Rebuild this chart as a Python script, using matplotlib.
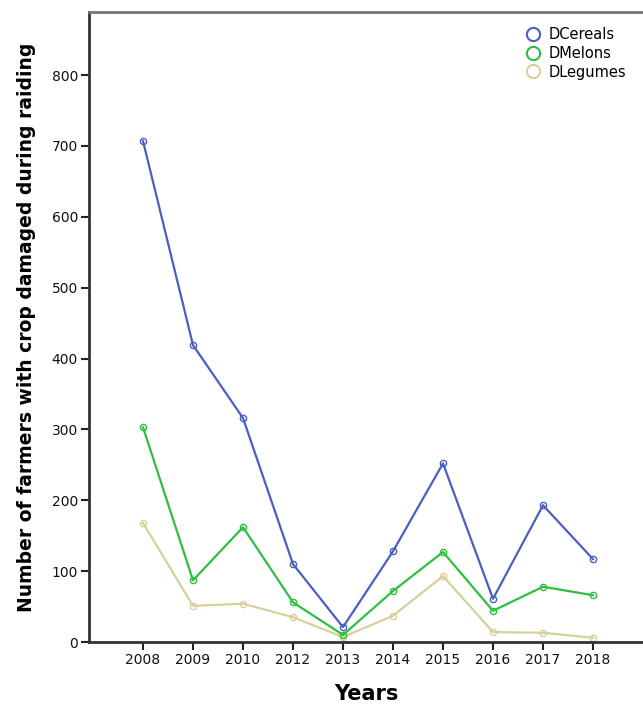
import matplotlib
matplotlib.use("Agg")
import matplotlib.pyplot as plt
from matplotlib.lines import Line2D

years = ["2008", "2009", "2010", "2012", "2013", "2014", "2015", "2016", "2017", "2018"]
cereals = [707, 419, 316, 110, 21, 128, 252, 61, 193, 117]
melons = [303, 87, 162, 56, 10, 72, 127, 44, 78, 66]
legumes = [168, 51, 54, 35, 7, 37, 93, 14, 13, 6]

series_names = ["DCereals", "DMelons", "DLegumes"]
colors = ["#4a5fc1", "#2fbf3f", "#d8d09c"]

fig = plt.figure(figsize=(6.43, 7.05), dpi=100)
ax = fig.add_axes([89 / 643, 63 / 705, 1 - 89 / 643, (642 - 12) / 705])

x = list(range(len(years)))
for vals, c in zip([legumes, melons, cereals], colors[::-1]):
    ax.plot(x, vals, color=c, lw=1.6, marker="o", ms=4.5, mfc="none", mec=c, mew=1.0)

ax.set_xlim(-1.08, 10.0)
ax.set_ylim(0, 889)
ax.set_xticks(x)
ax.set_xticklabels(years)
ax.set_yticks(range(0, 801, 100))

for s in ["left", "bottom", "top"]:
    ax.spines[s].set_linewidth(2)
    ax.spines[s].set_color("#333333")
ax.spines["top"].set_color("#777777")
ax.spines["right"].set_visible(False)
ax.tick_params(axis="both", direction="out", length=6, width=1.5, color="#222222",
               labelsize=10, labelcolor="#111111", pad=2)

ax.set_ylabel("Number of farmers with crop damaged during raiding", fontsize=13.5,
              fontweight="bold", labelpad=11)
ax.set_xlabel("Years", fontsize=15, fontweight="bold", labelpad=12)

handles = [Line2D([], [], ls="none", marker="o", ms=9.5, mfc="none", mec=c, mew=1.5)
           for c in colors]
leg = ax.legend(handles, series_names, loc="upper right", bbox_to_anchor=(0.981, 0.985),
                frameon=False, fontsize=10.5, handletextpad=0.5, labelspacing=0.25,
                handlelength=1.2, borderaxespad=0.0)

fig.savefig("out.png", dpi=100)
